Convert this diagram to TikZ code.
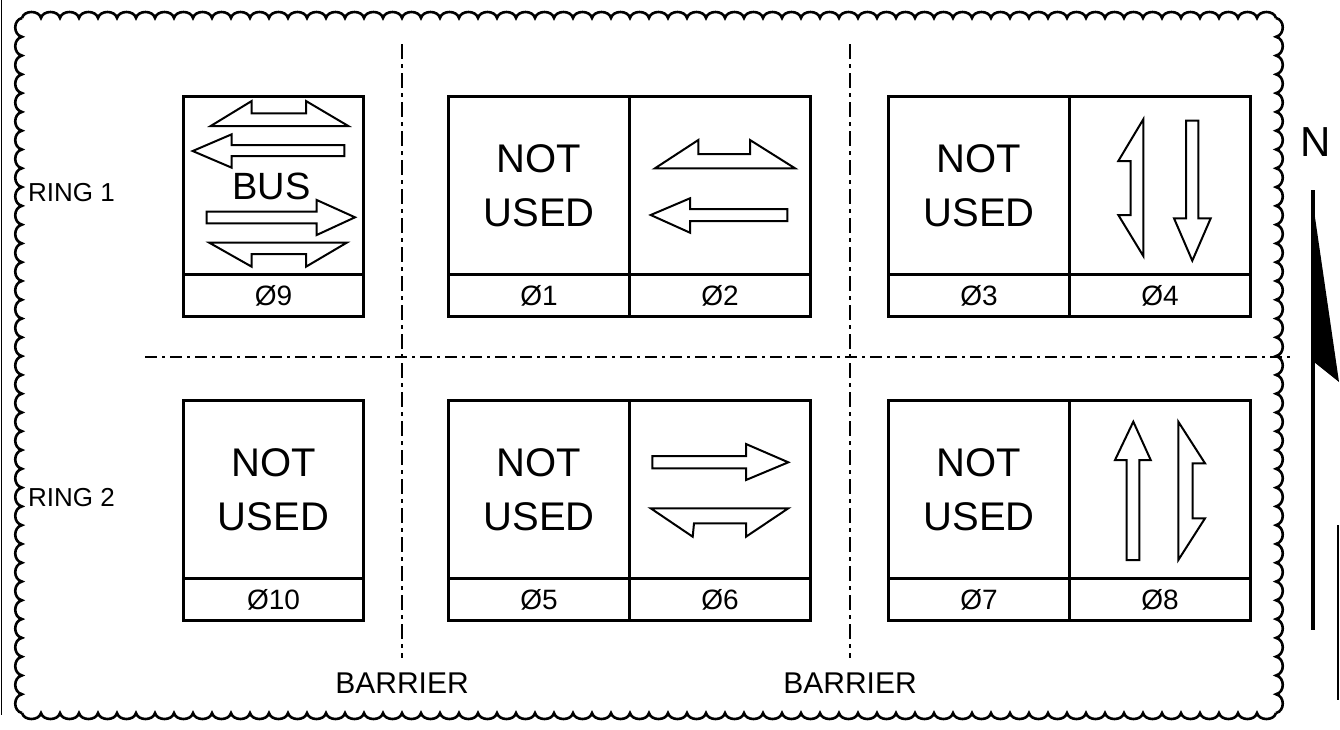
\documentclass[tikz,border=0pt]{standalone}
\usepackage{fontspec}
\setmainfont{Liberation Sans}
\begin{document}
\begin{tikzpicture}[x=1pt,y=-1pt,
  scal/.style={line width=2.6pt},
  cellbox/.style={draw, line width=3pt, minimum width=181pt, minimum height=178pt, inner sep=0pt, anchor=north west, align=center, font=\fontsize{40}{54}\selectfont},
  labbox/.style={draw, line width=3pt, minimum width=181pt, minimum height=42pt, inner sep=0pt, anchor=north west, font=\fontsize{28}{30}\selectfont},
  glyph/.style={draw, line width=2pt, line join=miter},
  barrier/.style={line width=2.8pt, dash pattern=on 15pt off 5pt on 4pt off 5pt},
  ringline/.style={line width=1.8pt, dash pattern=on 12pt off 5pt on 3pt off 5pt},
  small/.style={font=\fontsize{26}{28}\selectfont, inner sep=0pt},
  bartxt/.style={font=\fontsize{30}{32}\selectfont, inner sep=0pt}]
\useasboundingbox (0,0) rectangle (1340,729);
% scalloped border
\draw[scal] (22,18) \foreach \i in {0,...,65} { .. controls ({22+\i*19+2},10) and ({22+(\i+1)*19-2},10) .. ({22+(\i+1)*19},18) };
\draw[scal] (22,713) \foreach \i in {0,...,65} { .. controls ({22+\i*19+2},721) and ({22+(\i+1)*19-2},721) .. ({22+(\i+1)*19},713) };
\draw[scal] (22,18) \foreach \i in {0,...,36} { .. controls (13,{18+\i*18.784+2}) and (13,{18+(\i+1)*18.784-2}) .. (22,{18+(\i+1)*18.784}) };
\draw[scal] (1276,18) \foreach \i in {0,...,36} { .. controls (1285,{18+\i*18.784+2}) and (1285,{18+(\i+1)*18.784-2}) .. (1276,{18+(\i+1)*18.784}) };
% edge lines
\draw[line width=1pt] (1.5,0) -- (1.5,715);
\draw[line width=1.2pt] (1338,525) -- (1338,700);
% barriers and ring line
\coordinate (bt1) at (402,44); \coordinate (bb1) at (402,658);
\coordinate (bt2) at (850,44); \coordinate (bb2) at (850,658);
\coordinate (rl) at (145,357); \coordinate (rr) at (1290,357);
\draw[barrier] (bt1) -- (bb1);
\draw[barrier] (bt2) -- (bb2);
\draw[ringline] (rl) -- (rr);
\node[bartxt] (bar1) at (402,683) {BARRIER};
\node[bartxt] (bar2) at (850,683) {BARRIER};
\node[small, anchor=west] (ring1) at (28,193) {RING 1};
\node[small, anchor=west] (ring2) at (28,498) {RING 2};
% top row
\node[cellbox, minimum width=180pt] (b9) at (182,95) {};
\node[labbox, minimum width=180pt] (l9) at (182,273) {Ø9};
\node[cellbox] (b1) at (447,95) {NOT\\USED};
\node[labbox] (l1) at (447,273) {Ø1};
\node[cellbox] (b2) at (628,95) {};
\node[labbox] (l2) at (628,273) {Ø2};
\node[cellbox] (b3) at (887,95) {NOT\\USED};
\node[labbox] (l3) at (887,273) {Ø3};
\node[cellbox] (b4) at (1068,95) {};
\node[labbox] (l4) at (1068,273) {Ø4};
% bottom row
\node[cellbox, minimum width=180pt] (b10) at (182,399) {NOT\\USED};
\node[labbox, minimum width=180pt] (l10) at (182,577) {Ø10};
\node[cellbox] (b5) at (447,399) {NOT\\USED};
\node[labbox] (l5) at (447,577) {Ø5};
\node[cellbox] (b6) at (628,399) {};
\node[labbox] (l6) at (628,577) {Ø6};
\node[cellbox] (b7) at (887,399) {NOT\\USED};
\node[labbox] (l7) at (887,577) {Ø7};
\node[cellbox] (b8) at (1068,399) {};
\node[labbox] (l8) at (1068,577) {Ø8};
% Ø9 glyphs
\draw[glyph] (210.7,126) -- (251.7,101) -- (251.7,113.3) -- (306,113.3) -- (306,101) -- (348.3,126) -- cycle;
\draw[glyph] (192.7,151) -- (231.7,134.3) -- (231.7,145) -- (344.3,145) -- (344.3,156) -- (231.7,156) -- (231.7,167.7) -- cycle;
\node[font=\fontsize{38}{40}\selectfont, inner sep=0pt] (bus) at (271.7,186) {BUS};
\draw[glyph] (355,217.3) -- (316.7,200) -- (316.7,211.7) -- (206.7,211.7) -- (206.7,223.3) -- (316.7,223.3) -- (316.7,235) -- cycle;
\draw[glyph] (209.3,242.7) -- (251.7,266.7) -- (251.7,254) -- (306,254) -- (306,266.7) -- (346.7,242.7) -- cycle;
% Ø2 glyphs
\draw[glyph] (655,168.3) -- (698.3,140) -- (698.3,154) -- (750,154) -- (750,140) -- (795,168.3) -- cycle;
\draw[glyph] (650.7,215) -- (690,198.3) -- (690,209) -- (787.3,209) -- (787.3,221) -- (690,221) -- (690,232.7) -- cycle;
% Ø4 glyphs
\draw[glyph] (1143.3,119.3) -- (1118.3,161) -- (1130.7,161) -- (1130.7,215) -- (1118.3,215) -- (1143.3,256) -- cycle;
\draw[glyph] (1192.3,260.7) -- (1174,218.3) -- (1186,218.3) -- (1186,120.7) -- (1198.3,120.7) -- (1198.3,218.3) -- (1210.7,218.3) -- cycle;
% Ø6 glyphs
\draw[glyph] (788.3,462.3) -- (746,444) -- (746,456) -- (652.3,456) -- (652.3,468.3) -- (746,468.3) -- (746,480) -- cycle;
\draw[glyph] (650.7,508.3) -- (692.7,536.7) -- (694,523.3) -- (746,523.3) -- (746,536.7) -- (788.3,508.3) -- cycle;
% Ø8 glyphs
\draw[glyph] (1133.3,421.7) -- (1115,460) -- (1126.7,460) -- (1126.7,560) -- (1139.3,560) -- (1139.3,460) -- (1150.7,460) -- cycle;
\draw[glyph] (1178.3,421.7) -- (1205,463.3) -- (1192.7,463.3) -- (1192.7,518.3) -- (1205,518.3) -- (1178.3,560) -- cycle;
% north arrow
\node[font=\fontsize{42}{44}\selectfont, inner sep=0pt] (north) at (1316,142) {N};
\coordinate (nt) at (1313,190); \coordinate (nb) at (1313,630);
\draw[line width=4.5pt] (nt) -- (nb);
\fill (1311,190) -- (1339,382) -- (1314,362) -- cycle;
\end{tikzpicture}
\end{document}
